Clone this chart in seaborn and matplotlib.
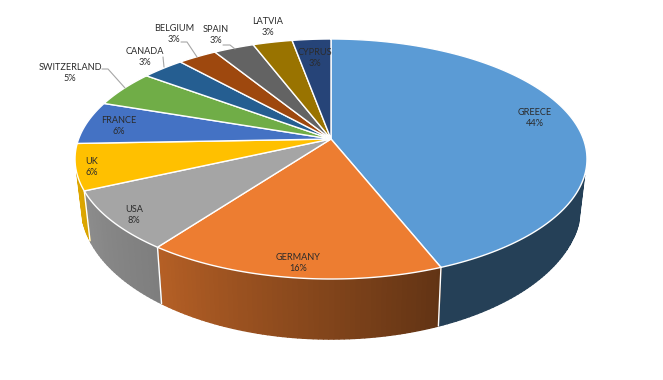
import numpy as np
import matplotlib
matplotlib.use("Agg")
import matplotlib.pyplot as plt
from matplotlib.collections import PolyCollection
from matplotlib.path import Path
from matplotlib.transforms import Transform, Affine2D
import matplotlib.colors as mc
import seaborn as sns

# ---- data ----
countries = ["GREECE", "GERMANY", "USA", "UK", "FRANCE", "SWITZERLAND",
             "CANADA", "BELGIUM", "SPAIN", "LATVIA", "CYPRUS"]
shares = [44.0, 16.15, 8.05, 6.2, 5.8, 4.95, 3.15, 2.9, 3.0, 2.93, 2.87]
colours = ["#5B9BD5", "#ED7D31", "#A5A5A5", "#FFC000", "#4472C4", "#70AD47",
           "#255E91", "#9E480E", "#636363", "#997300", "#264478"]

# ---- layout (pixels of the figure) ----
label_xy = [(535, 118), (298, 263), (134, 215), (92, 167), (119, 126), (70, 73),
            (145, 57), (174, 34), (216, 35), (268, 27), (315, 58)]
leaders = [[(102, 69), (108, 69), (125, 88)],
           [(163, 57), (164, 67)],
           [(181, 42), (187, 42), (197, 57)],
           [(223, 45), (230, 45), (235, 49)]]

CX = 331.0
KP = 1 / 6
TOP = dict(a=252.4, b=116.67, cy=139.0)
BOTTOM = dict(a=246.5, b=130.3, cy=182.7)


def project(xy, a, b, cy):
    xy = np.asarray(xy, float)
    w = 1 + KP * xy[..., 1]
    return np.stack([CX + a * xy[..., 0] / w, cy - b * xy[..., 1] / w], axis=-1)


class Perspective(Transform):
    input_dims = output_dims = 2
    is_affine = False
    has_inverse = False

    def transform_non_affine(self, values):
        return project(values, **TOP)

    def transform_path_non_affine(self, path):
        # flatten the curves at a large scale so the arc stays smooth
        big = Affine2D().scale(2000).transform_path(path)
        poly = big.to_polygons(closed_only=False)[0] / 2000
        return Path(project(poly, **TOP))


sns.set_theme(style="white")
plt.rcParams["font.family"] = ["Lato", "DejaVu Sans"]
palette = sns.color_palette(colours)

fig = plt.figure(figsize=(6.63, 3.80), dpi=100)
ax = fig.add_axes([0, 0, 1, 1])

wedges, _ = ax.pie(shares, colors=palette, startangle=90, counterclock=False,
                   wedgeprops=dict(edgecolor="white", linewidth=1.0, zorder=5))
ax.set_aspect("auto")
ax.set_xlim(0, 663)
ax.set_ylim(380, 0)
ax.axis("off")
persp = Perspective()
for w in wedges:
    w.set_transform(persp + ax.transData)
    w.set_clip_on(False)

# ---- side wall, built from the same shares ----
edges = np.cumsum([0] + shares) / sum(shares) * 360.0
shade_t = [0, 158, 216, 245, 270, 360]
shade_v = [0.41, 0.41, 0.76, 0.85, 0.90, 0.90]
VISIBLE = -0.29
polys, fc = [], []
for i, c in enumerate(palette):
    n = max(2, int(edges[i + 1] - edges[i]) + 1)
    ts = np.linspace(edges[i], edges[i + 1], n)
    for t0, t1 in zip(ts[:-1], ts[1:]):
        if np.cos(np.radians(0.5 * (t0 + t1))) > VISIBLE:
            continue
        unit = np.array([[np.sin(np.radians(t)), np.cos(np.radians(t))] for t in (t0, t1)])
        polys.append(np.vstack([project(unit, **TOP), project(unit, **BOTTOM)[::-1]]))
        s = np.interp(0.5 * (t0 + t1), shade_t, shade_v)
        fc.append(tuple(np.array(mc.to_rgb(c)) * s))
ax.add_collection(PolyCollection(polys, facecolors=fc, edgecolors=fc,
                                 linewidths=1.0, zorder=2))

# white separators on the wall
for e in edges[1:-1]:
    r = np.radians(e)
    u = np.array([np.sin(r), np.cos(r)])
    if u[1] < VISIBLE:
        p, q = project(u, **TOP), project(u, **BOTTOM)
        ax.plot([p[0], q[0]], [p[1], q[1]], color="white", lw=1.0, zorder=3)

# ---- labels and leader lines ----
for pts in leaders:
    xs, ys = zip(*pts)
    ax.plot(xs, ys, color="#a6a6a6", lw=0.8, zorder=6)
for name, val, (x, y) in zip(countries, shares, label_xy):
    ax.text(x, y, f"{name}\n{round(val)}%", ha="center", va="center", fontsize=6.6,
            color="#2b2b2b", linespacing=1.4, zorder=7)

fig.savefig("out.png", dpi=100, facecolor="white")
